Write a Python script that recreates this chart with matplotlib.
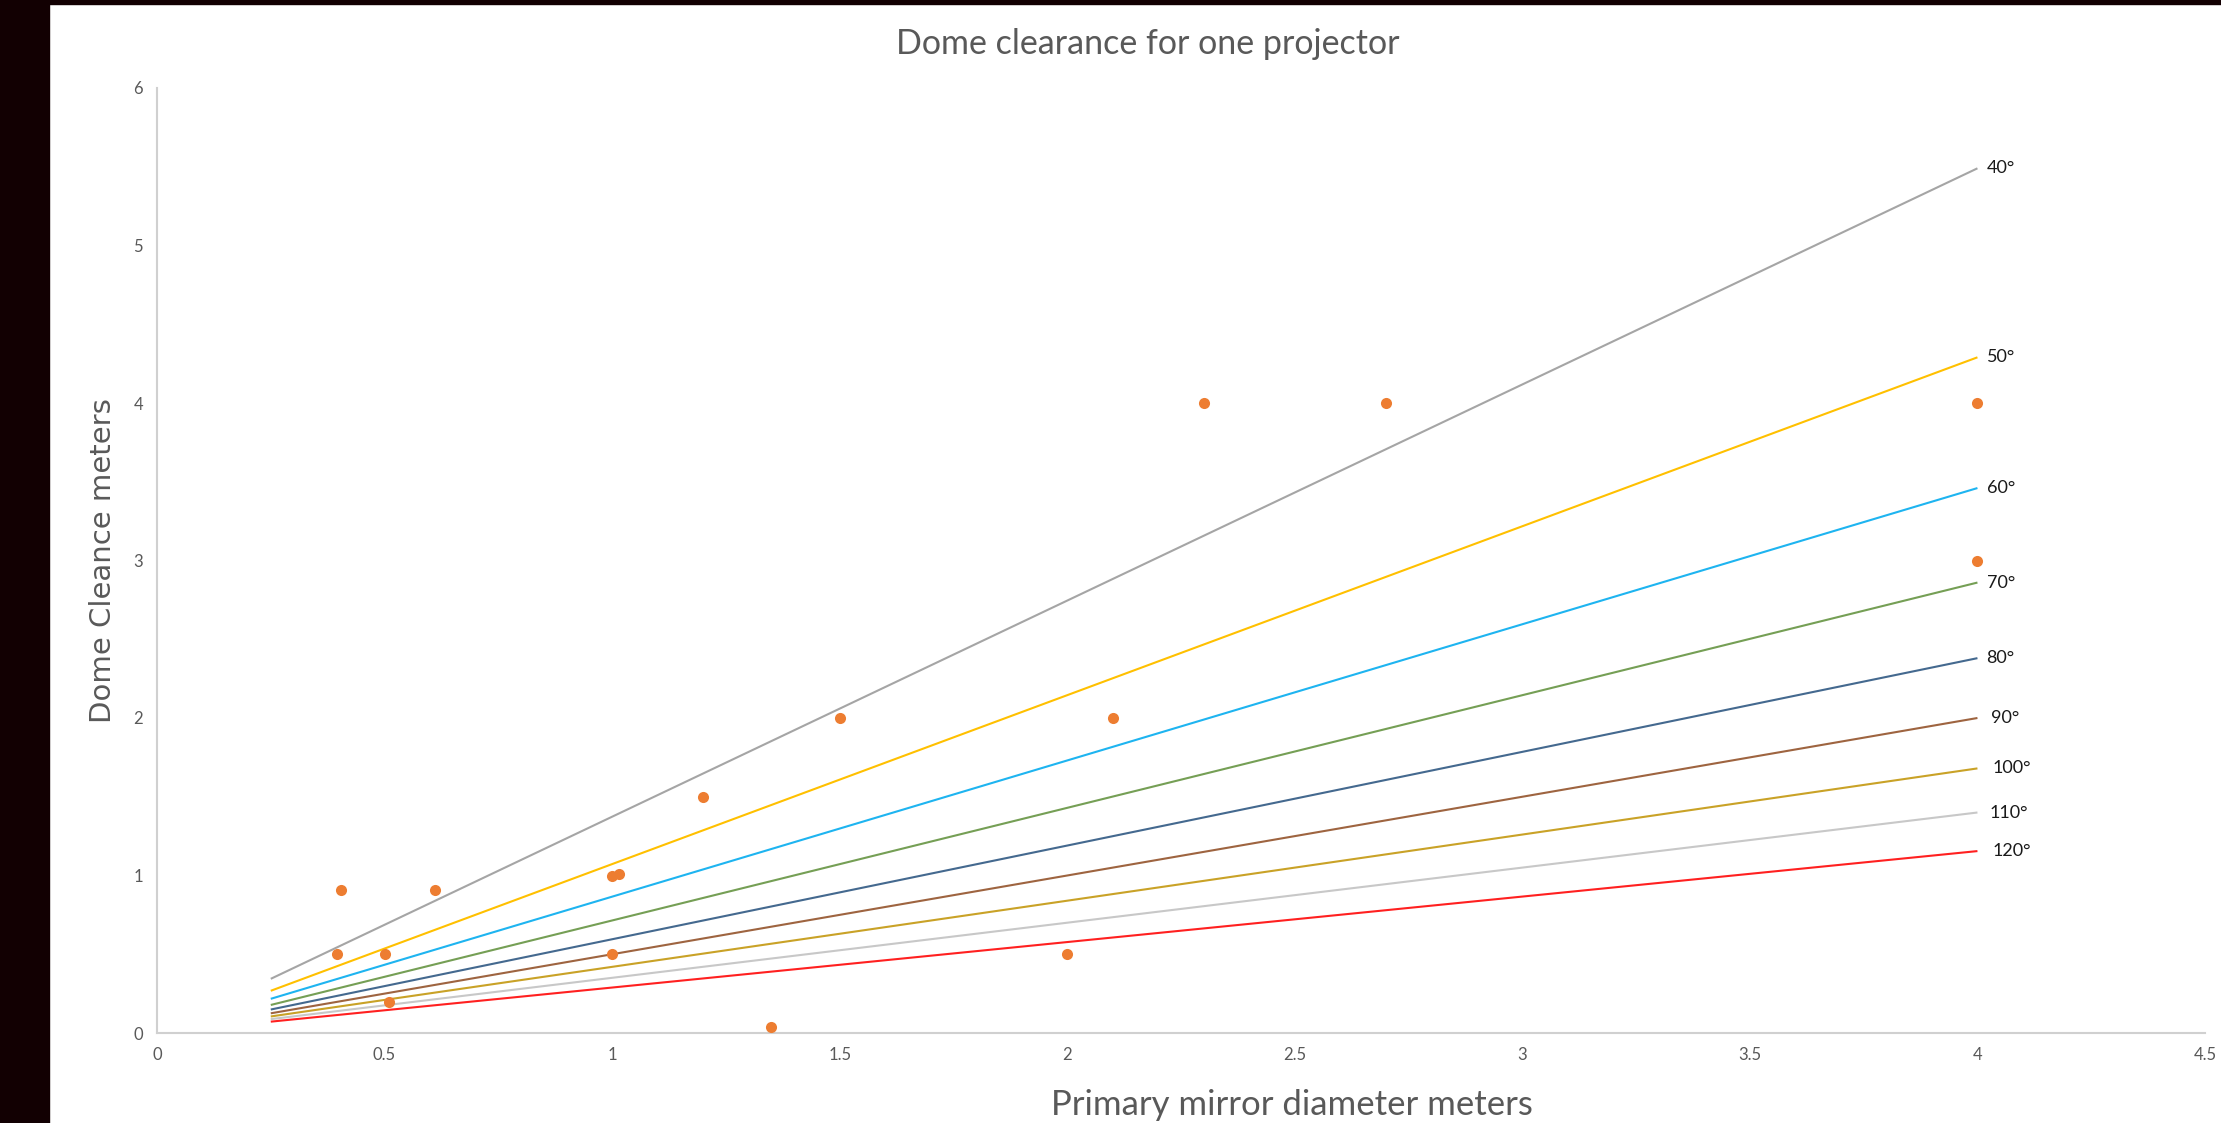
import matplotlib.pyplot as plt
import matplotlib.patches as patches

# projector field of view lines (clearance at the two ends of each line)
angles = ["40°", "50°", "60°", "70°", "80°", "90°", "100°", "110°", "120°"]
mirror_ends = [0.25, 4.0]
clear_start = [0.344, 0.268, 0.217, 0.178, 0.149, 0.125, 0.105, 0.088, 0.072]
clear_end = [5.49, 4.29, 3.46, 2.86, 2.38, 2.00, 1.68, 1.40, 1.155]

# existing telescopes
scope_diam = [0.405, 0.395, 0.5, 0.51, 0.61, 1.0, 1.015, 1.0, 1.2, 1.35,
              1.5, 2.0, 2.1, 2.3, 2.7, 4.0, 4.0]
scope_clear = [0.91, 0.5, 0.5, 0.2, 0.91, 1.0, 1.01, 0.5, 1.5, 0.04,
               2.0, 0.5, 2.0, 4.0, 4.0, 4.0, 3.0]

x_ticks = [0, 0.5, 1, 1.5, 2, 2.5, 3, 3.5, 4, 4.5]
x_tick_labels = ["0", "0.5", "1", "1.5", "2", "2.5", "3", "3.5", "4", "4.5"]
y_ticks = [0, 1, 2, 3, 4, 5, 6]

line_colors = ["#a5a5a5", "#ffc000", "#1eb4f0", "#759f55", "#44698f",
               "#9e6440", "#c9a227", "#c8c8c8", "#ff2020"]
label_dx = [7, 7, 7, 7, 6, 10, 11, 9, 11]

txt_font = ["Lato", "DejaVu Sans"]
grey = "#595959"

fig = plt.figure(figsize=(22.21, 11.23), dpi=100)
fig.patch.set_facecolor("white")

# dark frame strips from the screenshot
fig.add_artist(patches.Rectangle((0, 0), 49 / 2221, 1, transform=fig.transFigure,
                                 color="#120002", zorder=0))
fig.add_artist(patches.Rectangle((0, 1 - 4 / 1123), 1, 4 / 1123, transform=fig.transFigure,
                                 color="#120002", zorder=0))

ax = fig.add_axes([157 / 2221, 1 - 1033 / 1123, (2205 - 157) / 2221, (1033 - 88) / 1123])

for i in range(len(angles)):
    ax.plot(mirror_ends, [clear_start[i], clear_end[i]], color=line_colors[i],
            lw=1.5, solid_capstyle="butt", zorder=2)
    ax.annotate(angles[i], (mirror_ends[1], clear_end[i]), xytext=(label_dx[i], 0),
                textcoords="offset points", ha="left", va="center",
                fontsize=13, color="#1a1a1a", family=txt_font)

ax.scatter(scope_diam, scope_clear, s=64, color="#ed7d31", zorder=3, linewidths=0)

ax.set_xlim(0, 4.5)
ax.set_ylim(0, 6)
ax.set_xticks(x_ticks)
ax.set_xticklabels(x_tick_labels)
ax.set_yticks(y_ticks)
ax.tick_params(length=0, labelsize=12, labelcolor=grey, pad=10)
for lab in ax.get_xticklabels() + ax.get_yticklabels():
    lab.set_family(txt_font)

for side in ["top", "right"]:
    ax.spines[side].set_visible(False)
for side in ["left", "bottom"]:
    ax.spines[side].set_color("#d0d0d0")
    ax.spines[side].set_linewidth(1.5)

fig.text(1148 / 2221, 1 - 44 / 1123, "Dome clearance for one projector",
         ha="center", va="center", fontsize=24.5, color=grey, family=txt_font)
fig.text(1292 / 2221, 1 - 1105 / 1123, "Primary mirror diameter meters",
         ha="center", va="center", fontsize=25, color=grey, family=txt_font)
fig.text(103 / 2221, 1 - 561 / 1123, "Dome Cleance meters", rotation=90,
         ha="center", va="center", fontsize=21, color=grey, family="DejaVu Sans")

fig.savefig("out.png", dpi=100)
